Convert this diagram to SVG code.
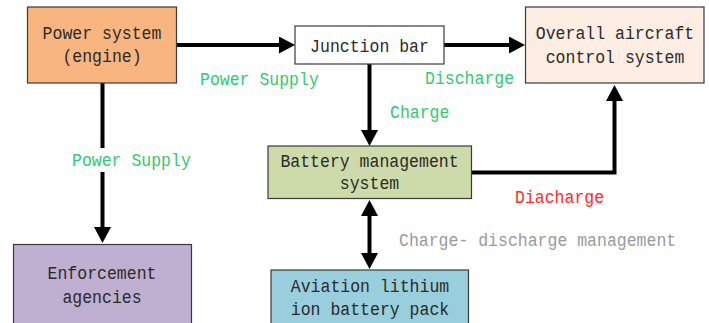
<svg xmlns="http://www.w3.org/2000/svg" width="709" height="323" viewBox="0 0 709 323">
<style>
.box{stroke:#3a3a3a;stroke-width:1.2}
.t{font-family:"Liberation Mono","DejaVu Sans Mono",monospace;font-size:18px;fill:#2a2a2a;text-anchor:middle}
.lbl{font-family:"Liberation Mono","DejaVu Sans Mono",monospace;font-size:18px}
.g{fill:#33c872}
.gray{fill:#9a9a9a}
.red{fill:#ff2a2a}
.c{fill:none;stroke:#000;stroke-width:4}
</style>
<defs>
<marker id="ah" viewBox="0 0 16 17" refX="8" refY="8.5" markerWidth="16" markerHeight="17" markerUnits="userSpaceOnUse" orient="auto-start-reverse">
<path d="M0,0 L16,8.5 L0,17 Z" fill="#000"/>
</marker>
</defs>
<rect width="709" height="323" fill="#fff"/>
<g id="connectors">
<line class="c" x1="177" y1="45" x2="287" y2="45" marker-end="url(#ah)"/>
<line class="c" x1="444" y1="45" x2="517" y2="45" marker-end="url(#ah)"/>
<line class="c" x1="102.5" y1="83" x2="102.5" y2="235" marker-end="url(#ah)"/>
<line class="c" x1="369.5" y1="64" x2="369.5" y2="138" marker-end="url(#ah)"/>
<path class="c" d="M471,172.5 H614.5 V93" marker-end="url(#ah)"/>
<line class="c" x1="369.5" y1="208" x2="369.5" y2="261" marker-start="url(#ah)" marker-end="url(#ah)"/>
</g>
<g id="labels">
<text class="lbl g" x="200" y="85" textLength="118.8" lengthAdjust="spacingAndGlyphs">Power Supply</text>
<text class="lbl g" x="425" y="84" textLength="89.1" lengthAdjust="spacingAndGlyphs">Discharge</text>
<text class="lbl g" x="390" y="117.5" textLength="59.4" lengthAdjust="spacingAndGlyphs">Charge</text>
<rect x="70" y="148" width="122" height="24" fill="#fff"/>
<text class="lbl g" x="72" y="166" textLength="118.8" lengthAdjust="spacingAndGlyphs">Power Supply</text>
<text class="lbl red" x="515" y="202.5" textLength="89.1" lengthAdjust="spacingAndGlyphs">Diacharge</text>
<text class="lbl gray" x="399" y="246" textLength="277.2" lengthAdjust="spacingAndGlyphs">Charge- discharge management</text>
</g>
<g id="power-system">
<rect class="box" x="27.5" y="7" width="149" height="76" fill="#f8b57f"/>
<text class="t" x="102" y="39" textLength="118.8" lengthAdjust="spacingAndGlyphs">Power system</text>
<text class="t" x="102" y="62" textLength="79.2" lengthAdjust="spacingAndGlyphs">(engine)</text>
</g>
<g id="junction-bar">
<rect class="box" x="295" y="26" width="149" height="38" fill="#fff"/>
<text class="t" x="369.5" y="51.5" textLength="118.8" lengthAdjust="spacingAndGlyphs">Junction bar</text>
</g>
<g id="overall-aircraft-control-system">
<rect class="box" x="525.5" y="7" width="178.5" height="76" fill="#fdede2"/>
<text class="t" x="615" y="39" textLength="158.4" lengthAdjust="spacingAndGlyphs">Overall aircraft</text>
<text class="t" x="615" y="62.5" textLength="138.6" lengthAdjust="spacingAndGlyphs">control system</text>
</g>
<g id="battery-management-system">
<rect class="box" x="268" y="146" width="203.5" height="52.5" fill="#cddbaa"/>
<text class="t" x="369.5" y="166.5" textLength="178.2" lengthAdjust="spacingAndGlyphs">Battery management</text>
<text class="t" x="369.5" y="189" textLength="59.4" lengthAdjust="spacingAndGlyphs">system</text>
</g>
<g id="enforcement-agencies">
<rect class="box" x="13.5" y="244.5" width="178" height="90" fill="#bfb0d1"/>
<text class="t" x="102" y="278.5" textLength="108.9" lengthAdjust="spacingAndGlyphs">Enforcement</text>
<text class="t" x="102" y="302.5" textLength="79.2" lengthAdjust="spacingAndGlyphs">agencies</text>
</g>
<g id="aviation-lithium-ion-battery-pack">
<rect class="box" x="271" y="270" width="197.5" height="70" fill="#99cfdd"/>
<text class="t" x="370" y="291.5" textLength="158.4" lengthAdjust="spacingAndGlyphs">Aviation lithium</text>
<text class="t" x="370" y="315" textLength="158.4" lengthAdjust="spacingAndGlyphs">ion battery pack</text>
</g>
</svg>
